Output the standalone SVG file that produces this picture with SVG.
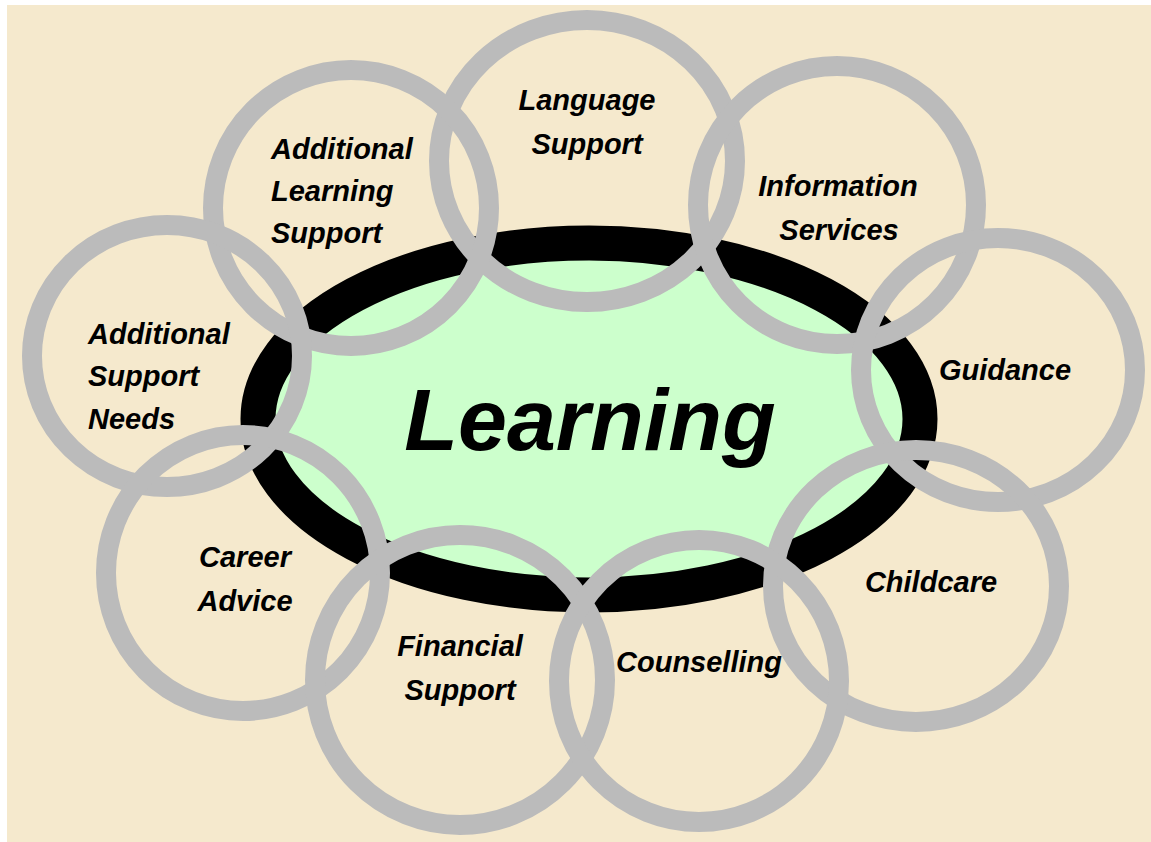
<svg xmlns="http://www.w3.org/2000/svg" width="1151" height="842" viewBox="0 0 1151 842">
  <style>
    .ring { fill: none; stroke: #BBBBBB; stroke-width: 20; }
    .label { font-family: "Liberation Sans", Arial, sans-serif; font-weight: bold; font-style: italic; font-size: 29px; fill: #000000; }
    .mid { text-anchor: middle; }
    .title { font-family: "Liberation Sans", Arial, sans-serif; font-weight: bold; font-style: italic; font-size: 88px; fill: #000000; text-anchor: middle; }
  </style>

  <!-- page -->
  <rect x="0" y="0" width="1151" height="842" fill="#FFFFFF"/>
  <rect x="7" y="5" width="1144" height="837" fill="#F5E9CD"/>

  <!-- central hub -->
  <g id="learning">
    <ellipse cx="589" cy="419" rx="331" ry="176" fill="#CCFFCC" stroke="#000000" stroke-width="35"/>
  </g>

  <!-- surrounding service rings -->
  <g id="language-support">
    <ellipse class="ring" cx="587" cy="161" rx="148" ry="141"/>
    <text class="label mid" x="587" y="110">Language</text>
    <text class="label mid" x="587" y="154">Support</text>
  </g>

  <g id="additional-learning-support">
    <ellipse class="ring" cx="351" cy="208" rx="138" ry="138"/>
    <text class="label" x="271" y="159">Additional</text>
    <text class="label" x="271" y="201">Learning</text>
    <text class="label" x="271" y="243">Support</text>
  </g>

  <g id="information-services">
    <ellipse class="ring" cx="837" cy="205" rx="139" ry="139"/>
    <text class="label mid" x="838" y="196">Information</text>
    <text class="label mid" x="839" y="240">Services</text>
  </g>

  <g id="additional-support-needs">
    <ellipse class="ring" cx="167" cy="356" rx="135" ry="131"/>
    <text class="label" x="88" y="344">Additional</text>
    <text class="label" x="88" y="386">Support</text>
    <text class="label" x="88" y="429">Needs</text>
  </g>

  <g id="guidance">
    <ellipse class="ring" cx="998" cy="370" rx="137" ry="132"/>
    <text class="label mid" x="1005" y="380">Guidance</text>
  </g>

  <g id="career-advice">
    <ellipse class="ring" cx="243" cy="573" rx="137" ry="138"/>
    <text class="label mid" x="245" y="567">Career</text>
    <text class="label mid" x="245" y="611">Advice</text>
  </g>

  <g id="childcare">
    <ellipse class="ring" cx="916" cy="586" rx="143" ry="136"/>
    <text class="label mid" x="931" y="592">Childcare</text>
  </g>

  <g id="financial-support">
    <ellipse class="ring" cx="460" cy="680" rx="145" ry="145"/>
    <text class="label mid" x="460" y="656">Financial</text>
    <text class="label mid" x="460" y="700">Support</text>
  </g>

  <g id="counselling">
    <ellipse class="ring" cx="699" cy="681" rx="140" ry="141"/>
    <text class="label mid" x="699" y="672">Counselling</text>
  </g>

  <!-- hub title drawn above the rings -->
  <text class="title" x="590" y="450">Learning</text>

  <!-- no connectors: rings touch the hub directly -->
  <g id="connectors"/>
</svg>
